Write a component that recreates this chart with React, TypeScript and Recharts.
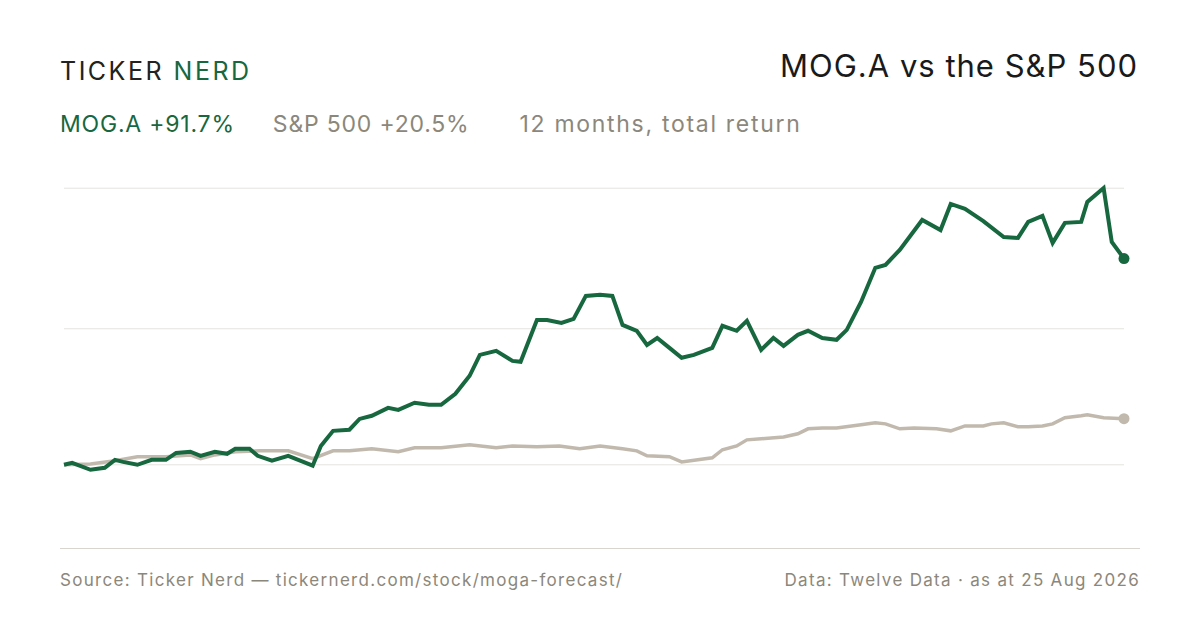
import React from "react";
import { LineChart, Line, XAxis, YAxis, ReferenceLine } from "recharts";

// weeks since start, total return in %
const mogWeeks = [0,0.4,1.3,2.0,2.5,2.9,3.6,4.3,5.0,5.5,6.2,6.7,7.4,8.0,8.4,9.1,9.5,10.2,11.0,12.2,12.6,13.2,14.0,14.5,15.1,15.9,16.4,17.2,17.9,18.5,19.2,19.9,20.4,21.2,22.0,22.4,23.2,23.7,24.4,25.0,25.6,26.3,26.9,27.4,28.1,28.6,29.1,29.7,30.3,30.9,31.8,32.3,33.0,33.5,34.2,34.8,35.3,36.0,36.5,37.2,37.9,38.4,39.1,39.8,40.3,41.0,42.1,43.0,43.5,44.2,45.1,46.1,46.8,47.3,48.0,48.5,49.1,49.9,50.2,51.0,51.4,52.0];
const mogReturn = [0,0.9,-2.2,-1.3,2.2,1.3,0,2.2,2.2,5.3,5.8,4.0,5.8,4.9,7.1,7.1,4.0,1.8,4.0,-0.4,8.4,15.1,15.6,20.4,21.8,25.3,24.4,27.6,26.7,26.7,31.6,39.6,48.9,50.7,46.2,45.8,64.4,64.4,63.1,64.9,75.1,75.6,75.1,62.2,59.6,53.3,56.4,52.0,47.6,48.9,52.0,61.8,59.6,64.0,51.1,56.4,52.9,57.8,59.6,56.4,55.6,60.0,72.4,87.6,88.9,95.6,108.9,104.4,116.0,113.8,108.4,101.3,100.9,108.0,110.7,98.7,107.6,108.0,116.9,123.1,99.1,91.7];
const spxWeeks = [0,1.3,2.5,3.6,5.0,6.2,6.7,7.4,8.4,9.6,11.0,12.2,13.2,14.0,15.1,16.4,17.2,18.5,19.9,21.2,22.0,23.2,24.3,25.3,26.3,27.4,28.1,28.6,29.7,30.3,31.8,32.3,33.0,33.5,34.2,35.3,36.0,36.5,37.2,37.9,39.1,39.8,40.3,41.0,41.7,42.8,43.5,44.2,45.1,45.5,46.1,46.8,47.3,48.0,48.5,49.1,49.9,50.2,51.0,52.0];
const spxReturn = [0,0.4,1.8,3.6,3.6,4.4,2.7,4.4,5.8,6.2,6.2,2.7,6.2,6.2,7.1,5.8,7.6,7.6,8.9,7.6,8.4,8.0,8.4,7.1,8.4,7.1,6.2,4.0,3.6,1.3,3.1,6.7,8.4,11.1,11.6,12.4,13.8,16.0,16.4,16.4,17.8,18.7,18.2,16.0,16.4,16.0,15.1,17.3,17.3,18.2,18.7,16.9,16.9,17.3,18.2,20.9,21.8,22.2,20.9,20.5];
const gridValues = [0, 60.5, 123];

const mogData = mogWeeks.map((w, i) => ({ w, v: mogReturn[i] }));
const spxData = spxWeeks.map((w, i) => ({ w, v: spxReturn[i] }));

const GREEN = "#17673f";
const GREY_LINE = "#c1b9ad";
const GREY_TEXT = "#8c877b";

const endDot = (n: number, color: string) => (props: any) =>
  props.index === n - 1 ? (
    <circle key="end" cx={props.cx} cy={props.cy} r={5.5} fill={color} />
  ) : (
    <g key={props.index} />
  );

export default function App() {
  return (
    <div style={{ position: "absolute", left: 0, top: 0, width: 1200, height: 630, background: "#fff", fontFamily: "Inter, sans-serif" }}>
      <div style={{ position: "absolute", left: 60, top: 56, fontSize: 25, letterSpacing: 2.5, color: "#222" }}>
        TICKER <span style={{ color: GREEN }}>NERD</span>
      </div>
      <div style={{ position: "absolute", right: 62, top: 47, fontSize: 31, letterSpacing: 1, color: "#1a1a1a" }}>MOG.A vs the S&amp;P 500</div>
      <div style={{ position: "absolute", left: 60, top: 110, fontSize: 23, letterSpacing: 0.8, whiteSpace: "pre" }}>
        <span style={{ color: GREEN }}>MOG.A +91.7%</span>
        <span style={{ color: GREY_TEXT, marginLeft: 38 }}>S&amp;P 500 +20.5%</span>
        <span style={{ color: GREY_TEXT, marginLeft: 50, letterSpacing: 1.7 }}>12 months, total return</span>
      </div>
      <div style={{ position: "absolute", left: 0, top: 0 }}>
        <LineChart width={1200} height={630} margin={{ left: 64, right: 76, top: 188, bottom: 82 }}>
          <XAxis dataKey="w" type="number" domain={[0, 52]} hide />
          <YAxis type="number" domain={[-37, 123]} hide />
          {gridValues.map((g) => (
            <ReferenceLine key={g} y={g} stroke="#e6e3de" strokeWidth={1} />
          ))}
          <Line data={spxData} dataKey="v" type="linear" stroke={GREY_LINE} strokeWidth={3.5} dot={endDot(spxData.length, GREY_LINE)} activeDot={false} isAnimationActive={false} />
          <Line data={mogData} dataKey="v" type="linear" stroke={GREEN} strokeWidth={4} dot={endDot(mogData.length, GREEN)} activeDot={false} isAnimationActive={false} />
        </LineChart>
      </div>
      <div style={{ position: "absolute", left: 60, width: 1080, top: 548, borderTop: "1px solid #d8d4ce" }} />
      <div style={{ position: "absolute", left: 60, top: 570, fontSize: 17, letterSpacing: 1.3, color: GREY_TEXT }}>
        Source: Ticker Nerd — tickernerd.com/stock/moga-forecast/
      </div>
      <div style={{ position: "absolute", right: 60, top: 570, fontSize: 17, letterSpacing: 1.3, color: GREY_TEXT }}>
        Data: Twelve Data · as at 25 Aug 2026
      </div>
    </div>
  );
}
